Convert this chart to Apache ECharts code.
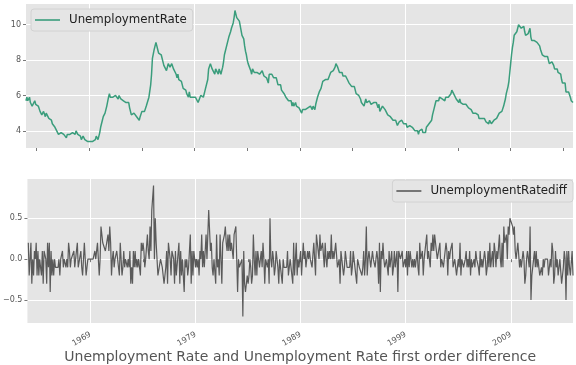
<!DOCTYPE html>
<html><head><meta charset="utf-8">
<script src="https://cdn.jsdelivr.net/npm/echarts@6/dist/echarts.min.js"></script>
<style>html,body{margin:0;padding:0;background:#fff}#c{width:576px;height:365px}</style>
</head><body><div id="c"></div>
<script>
// Monthly unemployment rate, Jan 1963 - Dec 2014
const startYear = 1963;
const rate1960s = [
5.7,5.9,5.7,5.7,5.9,5.6,5.6,5.4,5.5,5.5,5.7,5.5,
5.6,5.4,5.4,5.3,5.1,5.2,4.9,5.0,5.1,5.1,4.8,5.0,
4.9,5.1,4.7,4.8,4.6,4.6,4.4,4.4,4.3,4.2,4.1,4.0,
4.0,3.8,3.8,3.8,3.9,3.8,3.8,3.8,3.7,3.7,3.6,3.8,
3.9,3.8,3.8,3.8,3.8,3.9,3.8,3.8,3.8,4.0,3.9,3.8,
3.7,3.8,3.7,3.5,3.5,3.7,3.7,3.5,3.4,3.4,3.4,3.4,
3.4,3.4,3.4,3.4,3.4,3.5,3.5,3.5,3.7,3.7,3.5,3.5];
const rate1970s = [
3.9,4.2,4.4,4.6,4.8,4.9,5.0,5.1,5.4,5.5,5.9,6.1,
5.9,5.9,6.0,5.9,5.9,5.9,6.0,6.1,6.0,5.8,6.0,6.0,
5.8,5.7,5.8,5.7,5.7,5.7,5.6,5.6,5.5,5.6,5.3,5.2,
4.9,5.0,4.9,5.0,4.9,4.9,4.8,4.8,4.8,4.6,4.8,4.9,
5.1,5.2,5.1,5.1,5.1,5.4,5.5,5.5,5.9,6.0,6.6,7.2,
8.1,8.1,8.6,8.8,9.0,8.8,8.6,8.4,8.4,8.4,8.3,8.2,
7.9,7.7,7.6,7.7,7.4,7.6,7.8,7.8,7.6,7.7,7.8,7.8,
7.5,7.6,7.4,7.2,7.0,7.2,6.9,7.0,6.8,6.8,6.8,6.4,
6.4,6.3,6.3,6.1,6.0,5.9,6.2,5.9,6.0,5.8,5.9,6.0,
5.9,5.9,5.8,5.8,5.6,5.7,5.7,6.0,5.9,6.0,5.9,6.0];
const rate1980s = [
6.3,6.3,6.3,6.9,7.5,7.6,7.8,7.7,7.5,7.5,7.5,7.2,
7.5,7.4,7.4,7.2,7.5,7.5,7.2,7.4,7.6,7.9,8.3,8.5,
8.6,8.9,9.0,9.3,9.4,9.6,9.8,9.8,10.1,10.4,10.8,10.8,
10.4,10.4,10.3,10.2,10.1,10.1,9.4,9.5,9.2,8.8,8.5,8.3,
8.0,7.8,7.8,7.7,7.4,7.2,7.5,7.5,7.3,7.4,7.2,7.3,
7.3,7.2,7.2,7.3,7.2,7.4,7.4,7.1,7.1,7.1,7.0,7.0,
6.7,7.2,7.2,7.1,7.2,7.2,7.0,6.9,7.0,7.0,6.9,6.6,
6.6,6.6,6.6,6.3,6.3,6.2,6.1,6.0,5.9,6.0,5.8,5.7,
5.7,5.7,5.7,5.4,5.6,5.4,5.4,5.6,5.4,5.4,5.3,5.3,
5.4,5.2,5.0,5.2,5.2,5.3,5.2,5.2,5.3,5.3,5.4,5.4];
const rate1990s = [
5.4,5.3,5.2,5.4,5.4,5.2,5.5,5.7,5.9,5.9,6.2,6.3,
6.4,6.6,6.8,6.7,6.9,6.9,6.8,6.9,6.9,7.0,7.0,7.3,
7.3,7.4,7.4,7.4,7.6,7.8,7.7,7.6,7.6,7.3,7.4,7.4,
7.3,7.1,7.0,7.1,7.1,7.0,6.9,6.8,6.7,6.8,6.6,6.5,
6.6,6.6,6.5,6.4,6.1,6.1,6.1,6.0,5.9,5.8,5.6,5.5,
5.6,5.4,5.4,5.8,5.6,5.6,5.7,5.7,5.6,5.5,5.6,5.6,
5.6,5.5,5.5,5.6,5.6,5.3,5.5,5.1,5.2,5.2,5.4,5.4,
5.3,5.2,5.2,5.1,4.9,5.0,4.9,4.8,4.9,4.7,4.6,4.7,
4.6,4.6,4.7,4.3,4.4,4.5,4.5,4.5,4.6,4.5,4.4,4.4,
4.3,4.4,4.2,4.3,4.2,4.3,4.3,4.2,4.2,4.1,4.1,4.0];
const rate2000s = [
4.0,4.1,4.0,3.8,4.0,4.0,4.0,4.1,3.9,3.9,3.9,3.9,
4.2,4.2,4.3,4.4,4.3,4.5,4.6,4.9,5.0,5.3,5.5,5.7,
5.7,5.7,5.7,5.9,5.8,5.8,5.8,5.7,5.7,5.7,5.9,6.0,
5.8,5.9,5.9,6.0,6.1,6.3,6.2,6.1,6.1,6.0,5.8,5.7,
5.7,5.6,5.8,5.6,5.6,5.6,5.5,5.4,5.4,5.5,5.4,5.4,
5.3,5.4,5.2,5.2,5.1,5.0,5.0,4.9,5.0,5.0,5.0,4.9,
4.7,4.8,4.7,4.7,4.6,4.6,4.7,4.7,4.5,4.4,4.5,4.4,
4.6,4.5,4.4,4.5,4.4,4.6,4.7,4.6,4.7,4.7,4.7,5.0,
5.0,4.9,5.1,5.0,5.4,5.6,5.8,6.1,6.1,6.5,6.8,7.3,
7.8,8.3,8.7,9.0,9.4,9.5,9.5,9.6,9.8,10.0,9.9,9.9];
const rate2010s = [
9.8,9.8,9.9,9.9,9.6,9.4,9.4,9.5,9.5,9.4,9.8,9.3,
9.1,9.0,9.0,9.1,9.0,9.1,9.0,9.0,9.0,8.8,8.6,8.5,
8.3,8.3,8.2,8.2,8.2,8.2,8.2,8.0,7.8,7.8,7.7,7.9,
8.0,7.7,7.5,7.6,7.5,7.5,7.3,7.2,7.2,7.2,6.9,6.7,
6.6,6.7,6.7,6.2,6.3,6.1,6.2,6.1,5.9,5.7,5.8,5.6];

const tickYears = [1964,1969,1974,1979,1984,1989,1994,1999,2004,2009,2014];
const labelYears = [1969,1979,1989,1999,2009];
const yTicksTop = [4,6,8,10];
const yTicksBottom = [-0.5,0,0.5];
const seriesNames = ['UnemploymentRate','UnemploymentRatediff'];
const titleText = 'Unemployment Rate and Unemployment Rate first order difference';

const rate = [].concat(rate1960s, rate1970s, rate1980s, rate1990s, rate2000s, rate2010s);
const months = rate.map((_, i) => {
  const y = startYear + Math.floor(i / 12), m = i % 12 + 1;
  return y + '-' + (m < 10 ? '0' + m : m);
});
// first order difference of the series
const rateDiff = rate.map((v, i) => i === 0 ? null : Math.round((v - rate[i - 1]) * 10) / 10);

const yearOf = i => startYear + Math.floor(i / 12);
const isJan = i => i % 12 === 0;
const isTick = i => isJan(i) && tickYears.indexOf(yearOf(i)) >= 0;
const isLabel = i => isJan(i) && labelYears.indexOf(yearOf(i)) >= 0;

const FONT = 'DejaVu Sans';
const GRAY = '#555555';

function xAxis(gridIndex, withLabels) {
  return {
    type: 'category', gridIndex, data: months, boundaryGap: false,
    axisLine: {show: false},
    axisTick: {show: true, interval: (i) => isTick(i), length: 3, lineStyle: {color: GRAY, width: 0.8}},
    axisLabel: withLabels ? {
      show: true, interval: (i) => isLabel(i), rotate: 30, margin: 11,
      color: GRAY, fontSize: 8, fontFamily: FONT,
      formatter: (v) => v.slice(0, 4)
    } : {show: false},
    splitLine: {show: true, interval: (i) => isLabel(i), lineStyle: {color: '#ffffff', width: 1}},
    name: withLabels ? titleText : '',
    nameLocation: 'middle', nameGap: 22,
    nameTextStyle: {color: GRAY, fontSize: 14, fontFamily: FONT}
  };
}
function yAxis(gridIndex, min, max, ticks, interval, fmt) {
  return {
    type: 'value', gridIndex, min, max, minInterval: interval, maxInterval: interval,
    axisLine: {show: false},
    axisTick: {show: true, length: 3, customValues: ticks, lineStyle: {color: GRAY, width: 0.8}},
    axisLabel: {show: true, customValues: ticks,
      color: GRAY, fontSize: 8, fontFamily: FONT, margin: 5, formatter: fmt},
    splitLine: {show: true, lineStyle: {color: '#ffffff', width: 1}}
  };
}

const legendCommon = {
  orient: 'horizontal', itemWidth: 25, itemHeight: 1.6, icon: 'rect',
  backgroundColor: '#E5E5E5', borderColor: '#d2d2d2', borderWidth: 1, borderRadius: 3,
  padding: [5, 6, 5, 4],
  textStyle: {color: '#222222', fontSize: 11.8, fontFamily: FONT, padding: [0, 0, 0, 4], lineHeight: 12}
};

const chart = echarts.init(document.getElementById('c'), null, {renderer: 'canvas'});
chart.setOption({
  animation: false,
  backgroundColor: '#ffffff',
  grid: [
    {left: 26, right: 3, top: 4, height: 144, show: true, backgroundColor: '#E5E5E5', borderWidth: 0},
    {left: 26, right: 3, top: 179, height: 144, show: true, backgroundColor: '#E5E5E5', borderWidth: 0}
  ],
  legend: [
    Object.assign({}, legendCommon, {left: 31, top: 9, data: [seriesNames[0]]}),
    Object.assign({}, legendCommon, {right: 3, top: 180, data: [seriesNames[1]]})
  ],
  xAxis: [xAxis(0, false), xAxis(1, true)],
  yAxis: [
    yAxis(0, 3.03, 11.17, yTicksTop, 2, (v) => String(v)),
    yAxis(1, -0.78, 0.98, yTicksBottom, 0.5, (v) => v.toFixed(1).replace('-', '\u2212'))
  ],
  series: [
    {name: seriesNames[0], type: 'line', xAxisIndex: 0, yAxisIndex: 0, data: rate,
      symbol: 'none', lineStyle: {color: '#3a9d7c', width: 1.5}, itemStyle: {color: '#3a9d7c'}},
    {name: seriesNames[1], type: 'line', xAxisIndex: 1, yAxisIndex: 1, data: rateDiff,
      symbol: 'none', lineStyle: {color: '#5a5a5a', width: 1.2}, itemStyle: {color: '#5a5a5a'}}
  ]
});
</script></body></html>
